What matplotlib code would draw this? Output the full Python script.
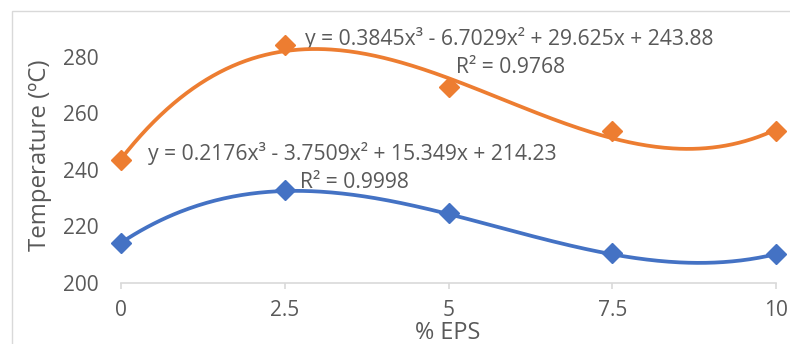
import numpy as np
import matplotlib.pyplot as plt
from matplotlib.patches import Rectangle

eps = [0, 2.5, 5, 7.5, 10]
temp_low = [214.2, 232.9, 224.6, 210.5, 210.4]
temp_high = [243.4, 284.4, 269.2, 253.7, 253.9]

# cubic trendline coefficients (highest power first)
fit_low = [0.2176, -3.7509, 15.349, 214.23]
fit_high = [0.3845, -6.7029, 29.625, 243.88]
eq_low = "y = 0.2176x³ - 3.7509x² + 15.349x + 214.23"
eq_high = "y = 0.3845x³ - 6.7029x² + 29.625x + 243.88"
r2_low = "R² = 0.9998"
r2_high = "R² = 0.9768"

blue = '#4472C4'
orange = '#ED7D31'
grey = '#595959'
light = '#D9D9D9'

plt.rcParams['font.family'] = ['Open Sans', 'DejaVu Sans']

W, H = 790, 344
fig = plt.figure(figsize=(W / 100, H / 100), dpi=100)
ax = fig.add_axes([121 / W, 1 - 283 / H, (776 - 121) / W, (283 - 28.7) / H])

# chart frame
fig.patches.append(Rectangle((12 / W, -0.1), 1.2, 1 - 11 / H + 0.1,
                             transform=fig.transFigure, fill=False,
                             edgecolor=light, linewidth=1))

xs = np.linspace(0, 10, 300)
for vals, fit, c in [(temp_low, fit_low, blue), (temp_high, fit_high, orange)]:
    ax.plot(eps, vals, linestyle='none', marker='D', markersize=10,
            color=c, clip_on=False, zorder=3)
    ax.plot(xs, np.polyval(fit, xs), color=c, linewidth=2.7,
            clip_on=False, zorder=4)

ax.set_xlim(0, 10)
ax.set_ylim(200, 290)
ax.set_xticks(eps)
ax.set_xticklabels(['0', '2.5', '5', '7.5', '10'])
ax.set_yticks([200, 220, 240, 260, 280])

for s in ['top', 'right', 'left']:
    ax.spines[s].set_visible(False)
ax.spines['bottom'].set_color(light)
ax.spines['bottom'].set_linewidth(1.2)
ax.tick_params(axis='x', colors=light, length=4, width=1.2, pad=8,
               labelcolor=grey, labelsize=15)
ax.tick_params(axis='y', length=0, pad=16, labelcolor=grey, labelsize=15)

ax.text(2.81, 286.7, eq_high, color=grey, fontsize=15.2, va='center', ha='left')
ax.text(5.94, 276.4, r2_high, color=grey, fontsize=15.2, va='center', ha='center')
ax.text(0.41, 246.0, eq_low, color=grey, fontsize=15.2, va='center', ha='left')
ax.text(3.57, 235.7, r2_low, color=grey, fontsize=15.2, va='center', ha='center')

fig.text(40 / W, 1 - 155 / H, 'Temperature (ºC)', rotation=90, color=grey,
         fontsize=17.3, ha='center', va='center')
fig.text(448 / W, 1 - 333 / H, '% EPS', color=grey, fontsize=16.8,
         ha='center', va='center')

fig.savefig('out.png', dpi=100)
